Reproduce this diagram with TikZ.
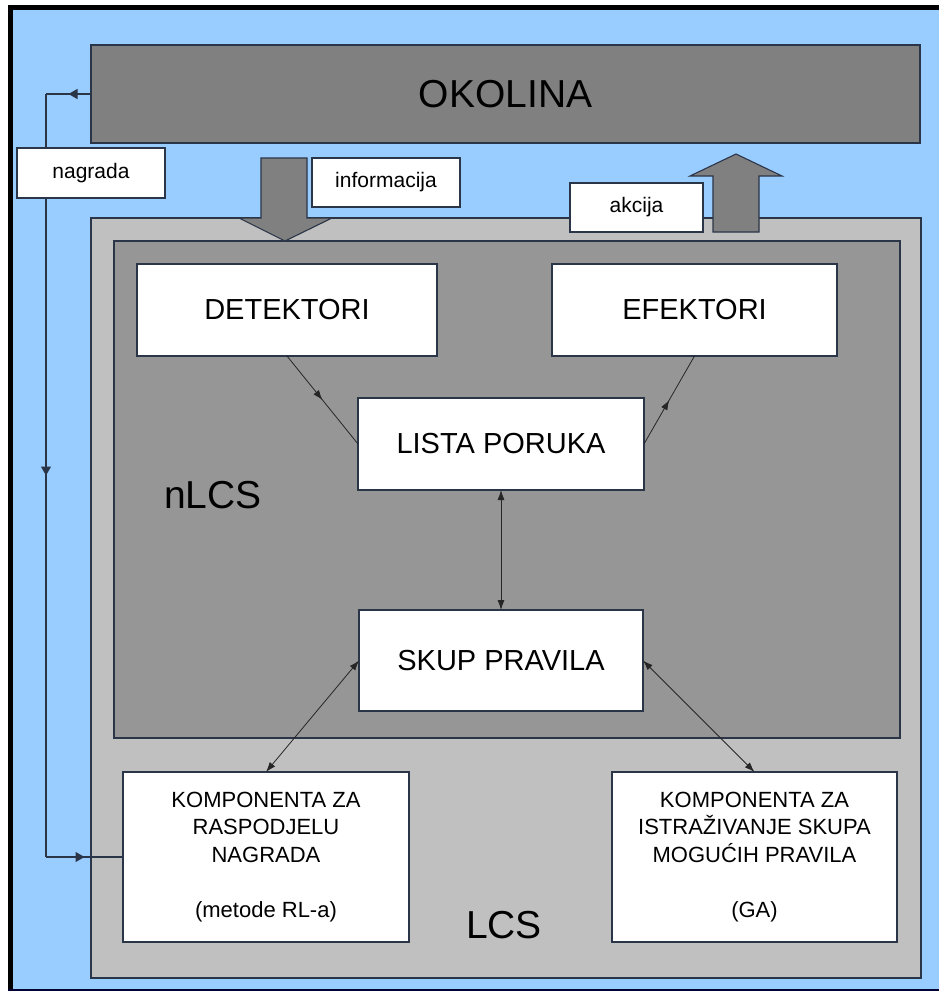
\documentclass[tikz,border=0pt]{standalone}
\usepackage{fontspec}
\setmainfont{Liberation Sans}
\usetikzlibrary{arrows.meta, decorations.markings}

\definecolor{skyblue}{HTML}{99CCFF}
\definecolor{envgray}{HTML}{808080}
\definecolor{lcsgray}{HTML}{C0C0C0}
\definecolor{nlcsgray}{HTML}{969696}
\definecolor{edge}{HTML}{2B3548}

\begin{document}
\begin{tikzpicture}[
    x=1pt, y=-1pt,
    >={Latex[length=10pt,width=7pt]},
    box/.style={draw=edge, line width=1.1pt, fill=white, inner sep=0pt, outer sep=0pt, align=center, font=\fontsize{29}{34}\selectfont},
    bigbox/.style={draw=edge, line width=1.1pt, inner sep=0pt, outer sep=0pt},
    comp/.style={box, minimum width=286pt, minimum height=170pt, font=\fontsize{22}{27.5}\selectfont},
    tag/.style={box, minimum height=49pt, font=\fontsize{21}{25}\selectfont},
    bigtext/.style={font=\fontsize{39}{44}\selectfont},
    blockarrow/.style={fill=envgray, draw=edge, line width=1.1pt, line join=miter},
    twoway/.style={<->, line width=0.8pt, black!85},
    thin link/.style={line width=0.8pt, black!85},
    link/.style={line width=1.2pt, draw=edge},
    midarrow/.style={postaction={decorate}, decoration={markings,
        mark=at position 0.5 with {\arrow{#1}}}},
    midarrow/.default={Latex[length=10pt,width=7pt]},
  ]
  \useasboundingbox (0,0) rectangle (938,993);
  % frame: blue ground, black on top, left and bottom
  \fill[skyblue] (8,5) rectangle (945,991);
  \fill[black] (8,5) rectangle (945,10);
  \fill[black] (8,5) rectangle (13,991);
  \fill[black!80!blue] (8,989) rectangle (945,991);
  % Okolina
  \node[bigbox, fill=envgray, minimum width=829pt, minimum height=98pt, bigtext] (okolina) at (505.5,94) {OKOLINA};
  % LCS and nLCS
  \node[bigbox, fill=lcsgray, minimum width=830pt, minimum height=760pt] (lcs) at (506,598) {};
  \node[bigbox, fill=nlcsgray, minimum width=786pt, minimum height=497pt] (nlcs) at (507,489.5) {};
  \node[bigtext] (nlcstext) at (213,495) {nLCS};
  \node[bigtext] (lcstext) at (504,925) {LCS};
  % block arrows
  \filldraw[blockarrow] (261,158) -- (307,158) -- (307,218) -- (332,218) -- (285,241) -- (239,218) -- (261,218) -- cycle;
  \filldraw[blockarrow] (713,232) -- (759,232) -- (759,176) -- (782,176) -- (736,154) -- (690,176) -- (713,176) -- cycle;
  % labels on the arrows
  \node[tag, minimum width=148pt] (informacija) at (386,182.5) {informacija};
  \node[tag, minimum width=133pt] (akcija) at (636.5,207.5) {akcija};
  % nLCS parts
  \node[box, minimum width=300pt, minimum height=92pt] (detektori) at (287,310) {DETEKTORI};
  \node[box, minimum width=285pt, minimum height=92pt] (efektori) at (694.5,310) {EFEKTORI};
  \node[box, minimum width=286pt, minimum height=92pt] (lista) at (501,444) {LISTA PORUKA};
  \node[box, minimum width=284pt, minimum height=101pt] (skup) at (501,660.5) {SKUP PRAVILA};
  % components
  \node[comp] (raspodjela) at (266,857) {KOMPONENTA ZA\\RASPODJELU\\NAGRADA\\[27.5pt](metode RL-a)};
  \node[comp, minimum width=285pt] (istrazivanje) at (754.5,857) {KOMPONENTA ZA\\ISTRAŽIVANJE SKUPA\\MOGUĆIH PRAVILA\\[27.5pt](GA)};
  % connectors
  \draw[thin link, midarrow] (detektori.south) -- (lista.west);
  \draw[thin link, midarrow] (lista.east) -- (efektori.south);
  \draw[twoway] (lista.south) -- (skup.north);
  \draw[twoway] (skup.west) -- (raspodjela.north);
  \draw[twoway] (skup.east) -- (istrazivanje.north);
  % reward loop
  \coordinate (looptop) at (46,94);
  \coordinate (loopbot) at (46,857);
  \draw[link, midarrow={Triangle[length=9pt,width=10pt]}] (okolina.west) -- (looptop);
  \draw[link, midarrow={Triangle[length=9pt,width=10pt]}] (looptop) -- (loopbot);
  \draw[link, midarrow={Triangle[length=9pt,width=10pt]}] (loopbot) -- (raspodjela.west);
  \node[tag, minimum width=148pt, minimum height=50pt] (nagrada) at (91,173) {nagrada};
\end{tikzpicture}
\end{document}
